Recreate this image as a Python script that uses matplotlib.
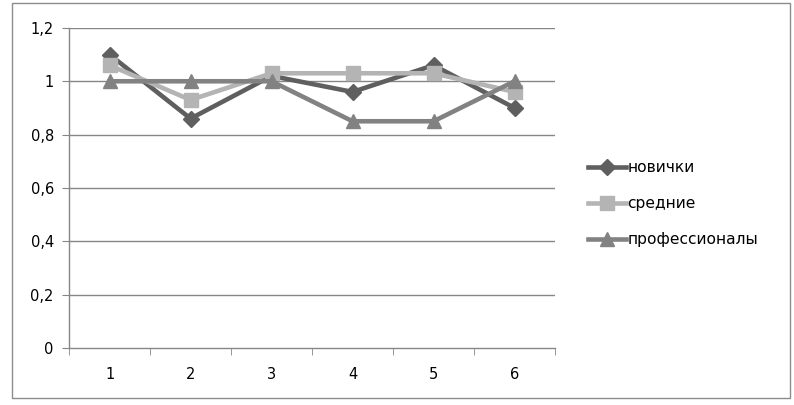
import numpy as np
import matplotlib.pyplot as plt
from matplotlib.patches import Rectangle

categories = [1, 2, 3, 4, 5, 6]
novichki = [1.10, 0.86, 1.02, 0.96, 1.06, 0.90]
srednie = [1.06, 0.93, 1.03, 1.03, 1.03, 0.96]
professionaly = [1.00, 1.00, 1.00, 0.85, 0.85, 1.00]
y_ticks = [0, 0.2, 0.4, 0.6, 0.8, 1.0, 1.2]

plt.rcParams['font.family'] = ['DejaVu Sans']

fig = plt.figure(figsize=(7.94, 4.05), dpi=100)
ax = fig.add_axes([0.087, 0.141, 0.612, 0.790])

grid_c = '#868686'
x = np.arange(1, len(categories) + 1)

ax.plot(x, novichki, color='#5f5f5f', lw=3.3, marker='D', ms=8.5, label='новички', zorder=3)
ax.plot(x, srednie, color='#b4b4b4', lw=3.3, marker='s', ms=9.5, label='средние', zorder=4)
ax.plot(x, professionaly, color='#828282', lw=3.3, marker='^', ms=10, label='профессионалы', zorder=5)

ax.set_xlim(0.5, len(categories) + 0.5)
ax.set_ylim(0, 1.2)
ax.set_yticks(y_ticks)
ax.set_yticklabels([('%g' % v).replace('.', ',') for v in y_ticks])
ax.set_xticks(x)
ax.set_xticklabels([str(c) for c in categories])
ax.set_xticks(np.arange(0.5, len(categories) + 1, 1), minor=True)
ax.tick_params(axis='x', which='major', length=0, pad=14, labelsize=10.5)
ax.tick_params(axis='x', which='minor', length=5, color=grid_c, direction='out')
ax.tick_params(axis='y', length=5, color=grid_c, pad=6, labelsize=10.5)

for v in y_ticks[1:]:
    ax.axhline(v, color=grid_c, lw=1, zorder=1)

for s in ['top', 'right']:
    ax.spines[s].set_visible(False)
for s in ['left', 'bottom']:
    ax.spines[s].set_color(grid_c)
    ax.spines[s].set_linewidth(1)

leg = ax.legend(loc='center left', bbox_to_anchor=(1.04, 0.45), frameon=False,
                fontsize=11.2, handlelength=2.4, handletextpad=0.1, labelspacing=1.35)

# chart area border
fig.patches.append(Rectangle((0.015, 0.017), 0.98, 0.975, transform=fig.transFigure,
                             fill=False, edgecolor='#8c8c8c', lw=1))

fig.savefig('out.png', dpi=100)
